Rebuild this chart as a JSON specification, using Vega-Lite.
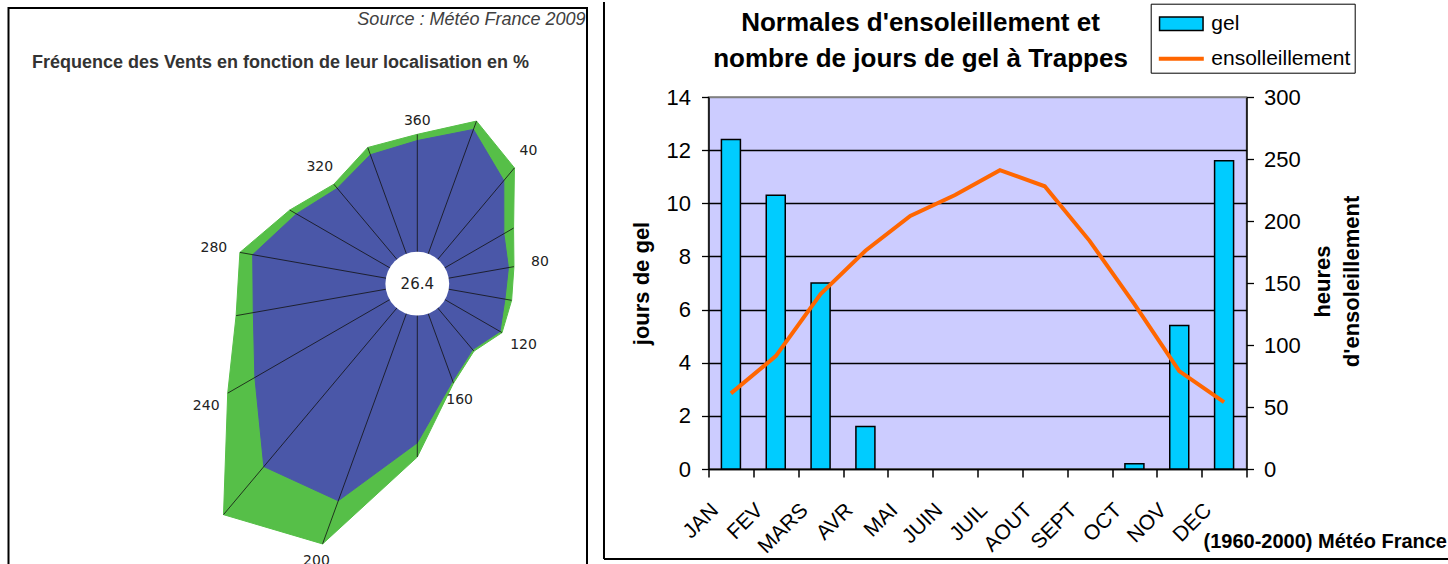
{
  "$schema": "https://vega.github.io/schema/vega-lite/v6.json",
  "padding": {"left": 7.5, "top": 0, "right": 0, "bottom": 0},
  "background": "white",
  "bounds": "flush",
  "spacing": 121,
  "config": {
    "view": {"stroke": null},
    "font": "Liberation Sans",
    "axis": {"labelFont": "Liberation Sans", "titleFont": "Liberation Sans", "labelColor": "black", "titleColor": "black"},
    "legend": {"labelFont": "Liberation Sans"}
  },
  "datasets": {
    "rose": [
      {"dir": 20, "classe1": 4.33, "cumul": 4.63},
      {"dir": 40, "classe1": 3.33, "cumul": 3.89},
      {"dir": 60, "classe1": 2.16, "cumul": 2.54},
      {"dir": 80, "classe1": 1.91, "cumul": 2.10},
      {"dir": 100, "classe1": 1.79, "cumul": 2.02},
      {"dir": 120, "classe1": 2.01, "cumul": 2.09},
      {"dir": 140, "classe1": 1.69, "cumul": 1.76},
      {"dir": 160, "classe1": 2.28, "cumul": 2.36},
      {"dir": 180, "classe1": 4.16, "cumul": 4.64},
      {"dir": 200, "classe1": 6.59, "cumul": 8.14},
      {"dir": 220, "classe1": 6.85, "cumul": 8.97},
      {"dir": 240, "classe1": 5.12, "cumul": 6.18},
      {"dir": 260, "classe1": 4.41, "cumul": 5.00},
      {"dir": 280, "classe1": 4.43, "cumul": 4.87},
      {"dir": 300, "classe1": 3.50, "cumul": 3.76},
      {"dir": 320, "classe1": 2.99, "cumul": 3.17},
      {"dir": 340, "classe1": 3.42, "cumul": 3.68},
      {"dir": 360, "classe1": 3.62, "cumul": 3.83}
    ],
    "calme": [{"calme": 26.4}],
    "mois": [
      {"num": 1, "mois": "JAN", "gel": 12.4, "ensoleillement": 61},
      {"num": 2, "mois": "FEV", "gel": 10.3, "ensoleillement": 91},
      {"num": 3, "mois": "MARS", "gel": 7.0, "ensoleillement": 141},
      {"num": 4, "mois": "AVR", "gel": 1.6, "ensoleillement": 176},
      {"num": 5, "mois": "MAI", "gel": 0, "ensoleillement": 204},
      {"num": 6, "mois": "JUIN", "gel": 0, "ensoleillement": 221},
      {"num": 7, "mois": "JUIL", "gel": 0, "ensoleillement": 241},
      {"num": 8, "mois": "AOUT", "gel": 0, "ensoleillement": 228},
      {"num": 9, "mois": "SEPT", "gel": 0, "ensoleillement": 184},
      {"num": 10, "mois": "OCT", "gel": 0.2, "ensoleillement": 133},
      {"num": 11, "mois": "NOV", "gel": 5.4, "ensoleillement": 79},
      {"num": 12, "mois": "DEC", "gel": 11.6, "ensoleillement": 54}
    ]
  },
  "hconcat": [
    {
      "width": 578.5,
      "height": 570,
      "view": {"stroke": "black", "strokeWidth": 2},
      "title": {"text": "Fréquence des Vents en fonction de leur localisation en %", "font": "Liberation Sans", "fontSize": 18, "fontWeight": "bold", "color": "#333333", "anchor": "start", "frame": "group", "dx": 23.5, "offset": -78, "baseline": "alphabetic"},
      "data": {"name": "rose"},
      "encoding": {
        "x": {"field": "px", "type": "quantitative", "scale": {"domain": [-13.811, 5.733], "nice": false, "zero": false},
          "axis": {"orient": "top", "title": "Source : Météo France 2009", "domain": false, "ticks": false, "labels": false, "grid": false, "titleAnchor": "end", "titleAlign": "right", "titleBaseline": "alphabetic", "titleX": 576.5, "titleY": 16, "titleFontSize": 18, "titleFontStyle": "italic", "titleFontWeight": "normal", "titleColor": "#404040"}},
        "y": {"field": "py", "type": "quantitative", "scale": {"domain": [-9.943, 9.314], "nice": false, "zero": false}, "axis": null}
      },
      "layer": [
        {
          "transform": [
            {"calculate": "(datum.cumul + 1.216) * sin(datum.dir * PI / 180)", "as": "px"},
            {"calculate": "(datum.cumul + 1.216) * cos(datum.dir * PI / 180)", "as": "py"}
          ],
          "mark": {"type": "line", "interpolate": "linear-closed", "fill": "#56BF48", "stroke": "#56BF48", "strokeWidth": 1},
          "encoding": {"order": {"field": "dir", "type": "quantitative"}}
        },
        {
          "transform": [
            {"calculate": "(datum.classe1 + 1.216) * sin(datum.dir * PI / 180)", "as": "px"},
            {"calculate": "(datum.classe1 + 1.216) * cos(datum.dir * PI / 180)", "as": "py"}
          ],
          "mark": {"type": "line", "interpolate": "linear-closed", "fill": "#4A57A8", "stroke": "#4A57A8", "strokeWidth": 1},
          "encoding": {"order": {"field": "dir", "type": "quantitative"}}
        },
        {
          "transform": [
            {"calculate": "(datum.cumul + 1.216) * sin(datum.dir * PI / 180)", "as": "px"},
            {"calculate": "(datum.cumul + 1.216) * cos(datum.dir * PI / 180)", "as": "py"}
          ],
          "mark": {"type": "rule", "color": "#111111", "strokeWidth": 0.8},
          "encoding": {"x2": {"datum": 0}, "y2": {"datum": 0}}
        },
        {
          "data": {"name": "calme"},
          "transform": [
            {"calculate": "0", "as": "px"},
            {"calculate": "0", "as": "py"}
          ],
          "mark": {"type": "point", "shape": "circle", "filled": true, "color": "white", "opacity": 1, "size": 4072},
          "encoding": {}
        },
        {
          "data": {"name": "calme"},
          "transform": [
            {"calculate": "0", "as": "px"},
            {"calculate": "0", "as": "py"}
          ],
          "mark": {"type": "text", "font": "DejaVu Sans", "fontSize": 15, "color": "#222222", "align": "center", "baseline": "middle"},
          "encoding": {"text": {"field": "calme", "type": "quantitative", "format": ".1f"}}
        },
        {
          "transform": [
            {"filter": "datum.dir % 40 == 0"},
            {"calculate": "datum.cumul + 1.216 + 0.45 + 0.45 * abs(sin(datum.dir * PI / 180))", "as": "rl"},
            {"calculate": "datum.rl * sin(datum.dir * PI / 180)", "as": "px"},
            {"calculate": "datum.rl * cos(datum.dir * PI / 180)", "as": "py"}
          ],
          "mark": {"type": "text", "font": "DejaVu Sans", "fontSize": 14, "color": "#222222", "align": "center", "baseline": "middle"},
          "encoding": {"text": {"field": "dir", "type": "quantitative", "format": "d"}}
        }
      ]
    },
    {
      "bounds": "flush",
      "spacing": 0,
      "vconcat": [
        {"width": 538, "height": 89, "data": {"values": []}, "mark": "point"},
        {
          "width": 538,
          "height": 372,
          "view": {"fill": "#CCCCFF", "stroke": "#808080", "strokeWidth": 1.5},
          "title": {"text": ["Normales d'ensoleillement et", "nombre de jours de gel à Trappes"], "font": "Liberation Sans", "fontSize": 26, "fontWeight": "bold", "color": "black", "lineHeight": 36, "anchor": "middle", "frame": "group", "dx": -57, "offset": -97, "baseline": "bottom"},
          "data": {"name": "mois"},
          "resolve": {"scale": {"y": "independent"}, "axis": {"x": "independent"}},
          "layer": [
            {
              "layer": [
                {
                  "transform": [{"filter": "datum.gel > 0"}],
                  "mark": {"type": "bar", "fill": "#00CCFF", "stroke": "black", "strokeWidth": 1.5, "width": 19},
                  "encoding": {
                    "x": {"field": "num", "type": "quantitative", "scale": {"domain": [0.5, 12.5], "nice": false, "zero": false, "padding": 0},
                      "axis": {"orient": "bottom", "values": [1, 2, 3, 4, 5, 6, 7, 8, 9, 10, 11, 12],
                        "grid": false, "domain": false, "ticks": true, "tickSize": 8, "tickOpacity": 0,
                        "labelExpr": "['JAN','FEV','MARS','AVR','MAI','JUIN','JUIL','AOUT','SEPT','OCT','NOV','DEC'][datum.value - 1]",
                        "labelAngle": -45, "labelAlign": "right", "labelBaseline": "top", "labelFontSize": 21, "labelPadding": 22, "labelOffset": -24,
                        "labelBound": false, "labelOverlap": false, "labelFlush": false, "title": null}},
                    "y": {"field": "gel", "type": "quantitative", "scale": {"domain": [0, 14], "nice": false},
                      "axis": {"orient": "left", "values": [0, 2, 4, 6, 8, 10, 12, 14], "grid": true,
                        "gridColor": {"condition": {"test": "datum.value == 14", "value": "#808080"}, "value": "black"}, "gridWidth": 1.3,
                        "domainColor": "black", "domainWidth": 1.5, "tickColor": "black", "tickWidth": 1.3, "tickSize": 7,
                        "labelFontSize": 22, "labelPadding": 11,
                        "title": "jours de gel", "titleFontSize": 22, "titleFontWeight": "bold", "titlePadding": 13}}
                  }
                },
                {
                  "data": {"values": [{}]},
                  "mark": {"type": "rule", "color": "black", "strokeWidth": 2},
                  "encoding": {"x": {"datum": -1.831}, "y": {"datum": -3.387}, "y2": {"datum": 17.575}}
                },
                {
                  "data": {"values": [{}]},
                  "mark": {"type": "rule", "color": "black", "strokeWidth": 2},
                  "encoding": {"x": {"datum": -1.831}, "x2": {"datum": 17.1}, "y": {"datum": -3.387}}
                },
                {
                  "data": {"values": []},
                  "mark": {"type": "point", "filled": true},
                  "encoding": {
                    "fill": {"field": "serie", "type": "nominal", "scale": {"domain": ["gel", "ensolleillement"], "range": ["#00CCFF", "#FF6600"]},
                      "legend": {"orient": "none", "legendX": 1142.2, "legendY": -4.3, "title": null, "padding": 4, "strokeColor": "black", "fillColor": "white", "labelFontSize": 21, "labelColor": "black", "symbolSize": 900, "symbolStrokeWidth": 1.5, "rowPadding": 9, "symbolOffset": 10.6, "labelOffset": 14, "symbolOpacity": 1}},
                    "stroke": {"field": "serie", "type": "nominal", "scale": {"domain": ["gel", "ensolleillement"], "range": ["black", "#FF6600"]},
                      "legend": {"orient": "none", "legendX": 1142.2, "legendY": -4.3, "title": null, "padding": 4, "strokeColor": "black", "fillColor": "white", "labelFontSize": 21, "labelColor": "black", "symbolSize": 900, "symbolStrokeWidth": 1.5, "rowPadding": 9, "symbolOffset": 10.6, "labelOffset": 14, "symbolOpacity": 1}},
                    "shape": {"field": "serie", "type": "nominal", "scale": {"domain": ["gel", "ensolleillement"], "range": ["M-1.45,-0.45H1.45V0.45H-1.45Z", "M-1.45,-0.08H1.45V0.08H-1.45Z"]},
                      "legend": {"orient": "none", "legendX": 1142.2, "legendY": -4.3, "title": null, "padding": 4, "strokeColor": "black", "fillColor": "white", "labelFontSize": 21, "labelColor": "black", "symbolSize": 900, "symbolStrokeWidth": 1.5, "rowPadding": 9, "symbolOffset": 10.6, "labelOffset": 14, "symbolOpacity": 1}}
                  }
                }
              ]
            },
            {
              "mark": {"type": "line", "stroke": "#FF6600", "strokeWidth": 4},
              "encoding": {
                "x": {"field": "num", "type": "quantitative",
                  "axis": {"orient": "bottom", "values": [0.5, 1.5, 2.5, 3.5, 4.5, 5.5, 6.5, 7.5, 8.5, 9.5, 10.5, 11.5, 12.5],
                    "grid": false, "labels": false, "domainColor": "black", "domainWidth": 1.5, "tickColor": "black", "tickWidth": 1.5, "tickSize": 8,
                    "title": "(1960-2000) Météo France", "titleAnchor": "end", "titleAlign": "right", "titleBaseline": "alphabetic", "titleX": 738, "titleY": 78, "titleFontSize": 20, "titleFontWeight": "bold"}},
                "y": {"field": "ensoleillement", "type": "quantitative", "scale": {"domain": [0, 300], "nice": false},
                  "axis": {"orient": "right", "values": [0, 50, 100, 150, 200, 250, 300], "grid": false,
                    "domainColor": "black", "domainWidth": 1.5, "tickColor": "black", "tickWidth": 1.3, "tickSize": 7,
                    "labelFontSize": 22, "labelPadding": 10,
                    "title": ["heures", "d'ensoleillement"], "titleAngle": 270, "titleBaseline": "top", "titleAlign": "center", "titleLineHeight": 29, "titleFontSize": 22, "titleFontWeight": "bold", "titleX": 66, "titleY": 184}}
              }
            }
          ]
        }
      ]
    }
  ]
}
